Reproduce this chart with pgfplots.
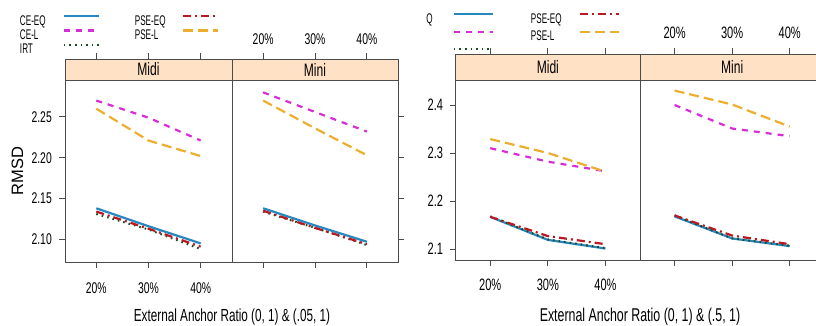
\documentclass[border=0pt]{standalone}
\usepackage{pgfplots}
\usepackage{pgfplotstable}
\pgfplotsset{compat=1.18}
\usepackage{fontspec}
\setmainfont[FakeStretch=0.67]{Liberation Sans}
\newfontfamily\legfont[FakeStretch=0.58]{Liberation Sans}
\newfontfamily\regfont{Liberation Sans}
\definecolor{ceeq}{RGB}{40,135,190}
\definecolor{cel}{RGB}{215,45,215}
\definecolor{irt}{RGB}{25,75,35}
\definecolor{pseeq}{RGB}{185,25,35}
\definecolor{psel}{RGB}{235,175,45}
\definecolor{stripc}{RGB}{255,226,198}
\definecolor{frame}{RGB}{75,75,75}

% left chart: (0,1) & (.05,1)
\pgfplotstableread{
x ceeq cel irt pseeq psel
20 2.138 2.270 2.131 2.134 2.260
30 2.116 2.249 2.112 2.113 2.221
40 2.095 2.221 2.088 2.091 2.202
}\LMidi
\pgfplotstableread{
x ceeq cel irt pseeq psel
20 2.138 2.280 2.134 2.135 2.270
30 2.117 2.256 2.114 2.114 2.236
40 2.097 2.232 2.093 2.094 2.203
}\LMini
% right chart: (0,1) & (.5,1)
\pgfplotstableread{
x ceeq cel irt pseeq psel
20 2.167 2.310 2.168 2.167 2.329
30 2.119 2.282 2.120 2.127 2.300
40 2.101 2.262 2.102 2.110 2.261
}\RMidi
\pgfplotstableread{
x ceeq cel irt pseeq psel
20 2.168 2.400 2.170 2.170 2.430
30 2.122 2.351 2.122 2.128 2.401
40 2.106 2.335 2.107 2.110 2.355
}\RMini

\pgfplotsset{
  sCEEQ/.style={ceeq, line width=2.2pt, solid},
  sCEL/.style={cel, line width=2.2pt, dash pattern=on 6pt off 6pt},
  sIRT/.style={irt, line width=2pt, dash pattern=on 1.6pt off 4pt},
  sPSEEQ/.style={pseeq, line width=2.2pt, dash pattern=on 8pt off 4pt on 2pt off 4pt},
  sPSEL/.style={psel, line width=2.2pt, dash pattern=on 10pt off 5pt},
  panel/.style={
    scale only axis, anchor=north west,
    xmin=14, xmax=46, xtick={20,30,40},
    xticklabels={20\%,30\%,40\%},
    tick align=outside, major tick length=6pt,
    tick style={frame, line width=0.8pt},
    axis line style={frame, line width=0.8pt},
    axis on top,
    /pgf/number format/assume math mode=true,
    every tick label/.append style={inner sep=0pt},
    xtick pos=both,
    legend image code/.code={\draw[##1] (0pt,4pt) -- (35pt,4pt);},
  },
  lfont/.style={font=\fontsize{15.5}{15.5}\selectfont},
  rfont/.style={font=\fontsize{16.5}{16.5}\selectfont},
}

\newcommand{\panelplots}[1]{%
  \addplot[sCEEQ, forget plot] table[x=x,y=ceeq] {#1};
  \addplot[sCEL, forget plot] table[x=x,y=cel] {#1};
  \addplot[sIRT, forget plot] table[x=x,y=irt] {#1};
  \addplot[sPSEEQ, forget plot] table[x=x,y=pseeq] {#1};
  \addplot[sPSEL, forget plot] table[x=x,y=psel] {#1};
}

\begin{document}
\begin{tikzpicture}
\useasboundingbox (0pt,0pt) rectangle (816pt,-326pt);

% ===== Left chart =====
\begin{axis}[panel, at={(65pt,-59pt)}, width=167pt, height=203pt,
  ymin=2.0722, ymax=2.3209,
  ytick={2.10,2.15,2.20,2.25}, yticklabels={2.10,2.15,2.20,2.25},
  ytick pos=left, xticklabel pos=lower,
  ticklabel style={lfont},
  xticklabel style={yshift=-14pt},
  yticklabel style={xshift=-7pt},
  legend columns=2, legend plot pos=right, legend cell align=left,
  legend style={draw=none, fill=none, inner sep=0pt, outer sep=0pt,
    anchor=north west, at={(-0.2695,1.2167)},
    nodes={inner sep=0pt, font=\legfont\fontsize{14}{14}\selectfont, text height=10pt, text depth=0pt},
    row sep=4.3pt,
    /tikz/column 1/.style={column sep=17pt},
    /tikz/column 2/.style={column sep=35pt},
    /tikz/column 3/.style={column sep=16pt}},
]
\addlegendimage{sCEEQ}\addlegendentry{CE-EQ}
\addlegendimage{sPSEEQ}\addlegendentry{PSE-EQ}
\addlegendimage{sCEL}\addlegendentry{CE-L}
\addlegendimage{sPSEL}\addlegendentry{PSE-L}
\addlegendimage{sIRT}\addlegendentry{IRT}
\panelplots{\LMidi}
\draw[frame, line width=0.8pt, fill=stripc] (axis cs:14,2.295) rectangle (axis cs:46,2.3209);
\node[font=\fontsize{18}{18}\selectfont] at (axis cs:30,2.308) {Midi};
\end{axis}

\begin{axis}[panel, at={(232pt,-59pt)}, width=166pt, height=203pt,
  ymin=2.0722, ymax=2.3209,
  ytick={2.10,2.15,2.20,2.25}, yticklabels={},
  ytick pos=right, xticklabel pos=upper,
  ticklabel style={lfont},
  xticklabel style={yshift=8.5pt},
]
\panelplots{\LMini}
\draw[frame, line width=0.8pt, fill=stripc] (axis cs:14,2.295) rectangle (axis cs:46,2.3209);
\node[font=\fontsize{18}{18}\selectfont] at (axis cs:30,2.308) {Mini};
\end{axis}

\node[rotate=90, font=\regfont\fontsize{16.5}{16.5}\selectfont] at (17.5pt,-171pt) {RMSD};
\node[anchor=base, font=\fontsize{17.5}{17.5}\selectfont] at (232pt,-321.5pt) {External Anchor Ratio (0, 1) \& (.05, 1)};

% ===== Right chart =====
\begin{scope}
\clip (426pt,0pt) rectangle (830pt,-330pt);
\begin{axis}[panel, at={(455.7pt,-54pt)}, width=184.3pt, height=206pt,
  ymin=2.0771, ymax=2.5062,
  ytick={2.1,2.2,2.3,2.4}, yticklabels={2.1,2.2,2.3,2.4},
  ytick pos=left, xticklabel pos=lower,
  ticklabel style={rfont},
  xticklabel style={yshift=-13pt},
  yticklabel style={xshift=-6.5pt},
  legend image code/.code={\draw[#1] (0pt,4pt) -- (39pt,4pt);},
  legend columns=2, legend plot pos=right, legend cell align=left,
  legend style={draw=none, fill=none, inner sep=0pt, outer sep=0pt,
    anchor=north west, at={(-0.2642,1.199)},
    nodes={inner sep=0pt, font=\legfont\fontsize{14}{14}\selectfont, text height=10pt, text depth=0pt},
    row sep=7.5pt,
    /tikz/column 1/.style={column sep=20pt},
    /tikz/column 2/.style={column sep=37pt},
    /tikz/column 3/.style={column sep=17pt}},
]
\addlegendimage{sCEEQ}\addlegendentry{CE-EQ}
\addlegendimage{sPSEEQ}\addlegendentry{PSE-EQ}
\addlegendimage{sCEL}\addlegendentry{CE-L}
\addlegendimage{sPSEL}\addlegendentry{PSE-L}
\addlegendimage{sIRT}\addlegendentry{IRT}
\panelplots{\RMidi}
\draw[frame, line width=0.8pt, fill=stripc] (axis cs:14,2.452) rectangle (axis cs:46,2.5062);
\node[font=\fontsize{18}{18}\selectfont] at (axis cs:30,2.479) {Midi};
\end{axis}
\end{scope}

\begin{axis}[panel, at={(640pt,-54pt)}, width=184.3pt, height=206pt,
  ymin=2.0771, ymax=2.5062,
  ytick={2.1,2.2,2.3,2.4}, yticklabels={},
  ytick pos=right, xticklabel pos=upper,
  ticklabel style={rfont},
  xticklabel style={yshift=9pt},
]
\panelplots{\RMini}
\draw[frame, line width=0.8pt, fill=stripc] (axis cs:14,2.452) rectangle (axis cs:46,2.5062);
\node[font=\fontsize{18}{18}\selectfont] at (axis cs:30,2.479) {Mini};
\end{axis}

\node[anchor=base, font=\fontsize{18.5}{18.5}\selectfont] at (640pt,-321.5pt) {External Anchor Ratio (0, 1) \& (.5, 1)};
\end{tikzpicture}
\end{document}
